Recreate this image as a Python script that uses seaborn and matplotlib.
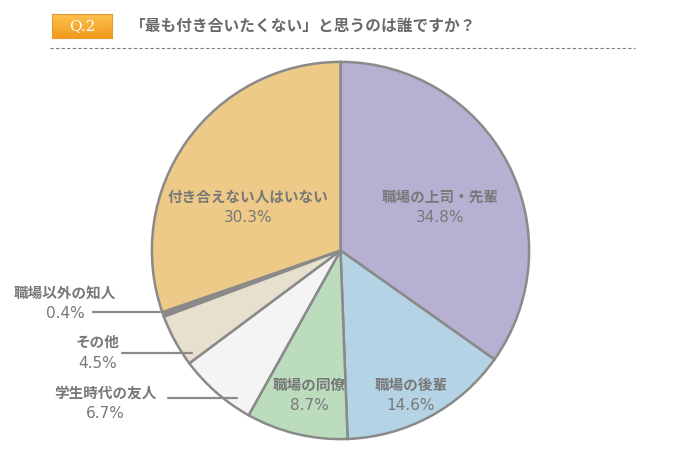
import matplotlib
matplotlib.use("Agg")
import matplotlib.pyplot as plt
import seaborn as sns
import numpy as np
from matplotlib.lines import Line2D
from matplotlib.colors import LinearSegmentedColormap

sns.set_theme(style="white")
plt.rcParams['font.family'] = ['Noto Sans CJK JP', 'DejaVu Sans']

categories = ["職場の上司・先輩", "職場の後輩", "職場の同僚", "学生時代の友人",
              "その他", "職場以外の知人", "付き合えない人はいない"]
values = [34.8, 14.6, 8.7, 6.7, 4.5, 0.4, 30.3]
pct_labels = ["34.8%", "14.6%", "8.7%", "6.7%", "4.5%", "0.4%", "30.3%"]
colors = ["#b8b0d3", "#b4d4e6", "#bcdcbe", "#f4f4f4", "#e8e0cf", "#8a8a8a", "#edca88"]
title = "「最も付き合いたくない」と思うのは誰ですか？"
badge = "Q.2"

W, H = 680, 450
fig = plt.figure(figsize=(W / 100, H / 100), dpi=100)
fig.patch.set_facecolor("white")

def fx(x):
    return x / W

def fy(y):
    return 1 - y / H

# Pie
ax = fig.add_axes([fx(150), fy(441), 381 / W, 381 / H])
ax.pie(values, colors=colors, startangle=90, counterclock=False, radius=1,
       wedgeprops=dict(edgecolor="#8a8a8a", linewidth=1.8))
ax.set_xlim(-1.01, 1.01)
ax.set_ylim(-1.01, 1.01)
ax.set_aspect("equal")
ax.axis("off")

txt = "#787878"
pos = {
    0: (440, 197),
    1: (411, 385),
    2: (309, 385),
    3: (105, 393),
    4: (98, 342),
    5: (65, 293),
    6: (248, 197),
}
for i, (x, y) in pos.items():
    fig.text(fx(x), fy(y), categories[i], ha="center", va="center",
             fontsize=10.5, fontweight="bold", color=txt)
    fig.text(fx(x), fy(y + 21), pct_labels[i], ha="center", va="center",
             fontsize=11, color=txt, family="DejaVu Sans")

for (x0, y0, x1, y1) in [(168, 398, 237, 398), (122, 353, 192, 353), (93, 312, 160, 312)]:
    fig.add_artist(Line2D([fx(x0), fx(x1)], [fy(y0), fy(y1)], color="#8a8a8a",
                          linewidth=1.6, transform=fig.transFigure))

# title badge
bax = fig.add_axes([fx(52), fy(38), 60 / W, 24 / H])
grad = np.linspace(0, 1, 50).reshape(-1, 1)
cm = LinearSegmentedColormap.from_list("g", ["#fcc24e", "#f29a1c"])
bax.imshow(grad, aspect="auto", cmap=cm, extent=[0, 1, 0, 1])
bax.text(0.5, 0.5, badge, ha="center", va="center", color="white",
         fontsize=11, family="DejaVu Serif", transform=bax.transAxes)
bax.set_xticks([]); bax.set_yticks([])
for s in bax.spines.values():
    s.set_edgecolor("#e89a2c"); s.set_linewidth(0.8)

fig.text(fx(130), fy(26), title, ha="left", va="center", fontsize=11.3,
         fontweight="bold", color="#6a6a6a")
fig.add_artist(Line2D([fx(50), fx(635)], [fy(48), fy(48)], color="#8a7a6a",
                      linewidth=0.8, linestyle=(0, (3, 2)), transform=fig.transFigure))

fig.savefig("out.png", dpi=100, facecolor="white")
